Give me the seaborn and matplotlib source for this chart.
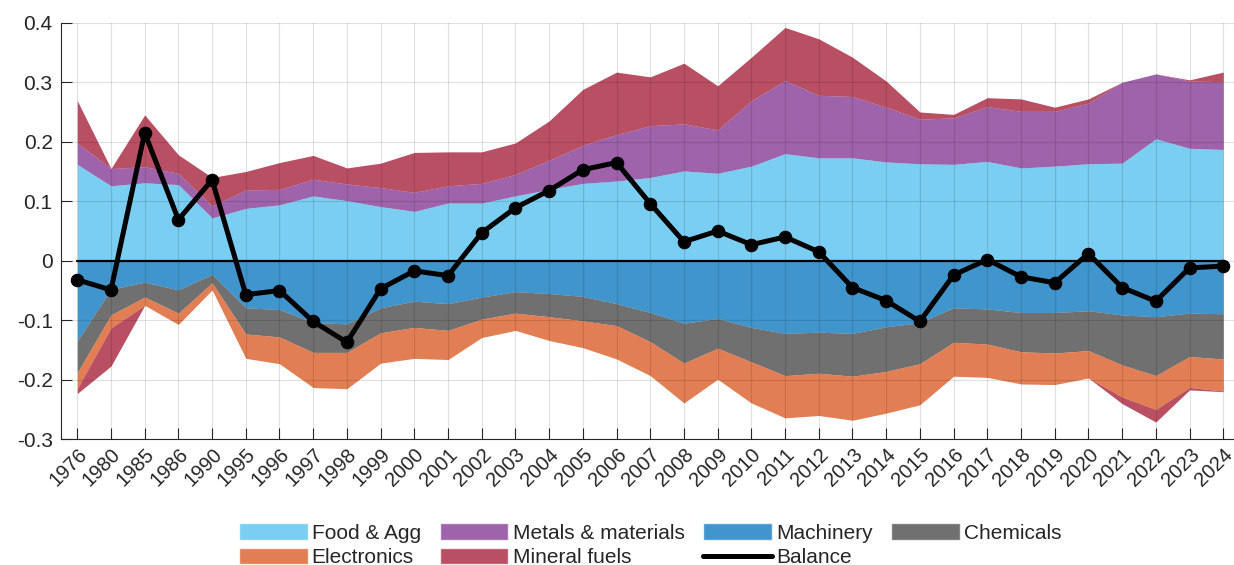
import numpy as np
import pandas as pd
import matplotlib.pyplot as plt
import seaborn as sns
from matplotlib.patches import Patch
from matplotlib.lines import Line2D

# Data
years = ['1976', '1980', '1985', '1986', '1990'] + [str(y) for y in range(1995, 2025)]

food = [0.162, 0.126, 0.131, 0.128, 0.072, 0.088, 0.094, 0.109, 0.101, 0.091,
        0.083, 0.097, 0.097, 0.109, 0.120, 0.130, 0.134, 0.140, 0.151, 0.147,
        0.159, 0.180, 0.173, 0.173, 0.166, 0.163, 0.162, 0.167, 0.156, 0.159,
        0.163, 0.164, 0.205, 0.189, 0.187]
metals = [0.036, 0.029, 0.027, 0.019, 0.020, 0.031, 0.026, 0.028, 0.028, 0.032,
          0.032, 0.029, 0.033, 0.036, 0.049, 0.064, 0.078, 0.087, 0.079, 0.073,
          0.110, 0.123, 0.105, 0.103, 0.092, 0.075, 0.078, 0.092, 0.095, 0.092,
          0.102, 0.136, 0.109, 0.113, 0.114]
fuels_pos = [0.071, 0.000, 0.087, 0.031, 0.048, 0.031, 0.045, 0.040, 0.027, 0.041,
             0.067, 0.057, 0.053, 0.053, 0.066, 0.094, 0.105, 0.082, 0.102, 0.074,
             0.073, 0.089, 0.095, 0.066, 0.044, 0.012, 0.006, 0.015, 0.021, 0.007,
             0.007, 0.000, 0.000, 0.002, 0.016]
machinery = [-0.135, -0.048, -0.036, -0.049, -0.023, -0.079, -0.082, -0.104, -0.106, -0.079,
             -0.068, -0.072, -0.061, -0.052, -0.055, -0.060, -0.072, -0.087, -0.105, -0.097,
             -0.112, -0.122, -0.120, -0.122, -0.111, -0.104, -0.079, -0.081, -0.087, -0.087,
             -0.084, -0.091, -0.094, -0.088, -0.089]
chemicals = [-0.053, -0.043, -0.025, -0.039, -0.014, -0.044, -0.046, -0.050, -0.048, -0.042,
             -0.044, -0.045, -0.037, -0.036, -0.039, -0.041, -0.037, -0.049, -0.067, -0.050,
             -0.058, -0.071, -0.069, -0.072, -0.075, -0.069, -0.058, -0.059, -0.066, -0.068,
             -0.067, -0.084, -0.099, -0.073, -0.076]
electronics = [-0.027, -0.022, -0.014, -0.019, -0.012, -0.041, -0.045, -0.059, -0.061, -0.051,
               -0.052, -0.049, -0.031, -0.029, -0.040, -0.045, -0.056, -0.057, -0.067, -0.052,
               -0.069, -0.071, -0.071, -0.074, -0.070, -0.069, -0.057, -0.056, -0.054, -0.053,
               -0.046, -0.054, -0.057, -0.052, -0.054]
fuels_neg = [-0.008, -0.064, 0.0, 0.0, 0.0, 0.0, 0.0, 0.0, 0.0, 0.0,
             0.0, 0.0, 0.0, 0.0, 0.0, 0.0, 0.0, 0.0, 0.0, 0.0,
             0.0, 0.0, 0.0, 0.0, 0.0, 0.0, 0.0, 0.0, 0.0, 0.0,
             0.0, -0.011, -0.021, -0.004, -0.001]
balance = [-0.032, -0.049, 0.215, 0.069, 0.136, -0.057, -0.050, -0.102, -0.137, -0.047,
           -0.017, -0.025, 0.047, 0.089, 0.118, 0.153, 0.165, 0.096, 0.032, 0.050,
           0.027, 0.040, 0.015, -0.045, -0.067, -0.102, -0.024, 0.002, -0.027, -0.037,
           0.012, -0.045, -0.068, -0.012, -0.009]

# MATLAB-like colours, drawn with face alpha
c_food = (0.301, 0.745, 0.933)
c_metal = (0.494, 0.184, 0.556)
c_mach = (0.0, 0.447, 0.741)
c_chem = (0.25, 0.25, 0.25)
c_elec = (0.85, 0.325, 0.098)
c_fuel = (0.635, 0.078, 0.184)
alpha = 0.75

sns.set_theme(style='white')
plt.rcParams['font.family'] = ['Liberation Sans', 'DejaVu Sans']

x = np.arange(len(years))
df = pd.DataFrame({'x': x, 'Balance': balance})

fig = plt.figure(figsize=(12.34, 5.65), dpi=100)
ax = fig.add_axes([0.0494, 0.2225, 0.9506, 0.7373])

# stacked positive part
base = np.zeros(len(x))
for vals, col in [(food, c_food), (metals, c_metal), (fuels_pos, c_fuel)]:
    top = base + np.array(vals)
    ax.fill_between(x, base, top, color=col, alpha=alpha, linewidth=0)
    base = top

# stacked negative part
base = np.zeros(len(x))
for vals, col in [(machinery, c_mach), (chemicals, c_chem), (electronics, c_elec), (fuels_neg, c_fuel)]:
    bot = base + np.array(vals)
    ax.fill_between(x, base, bot, color=col, alpha=alpha, linewidth=0)
    base = bot

ax.plot([x[0], x[-1]], [0, 0], color='black', lw=1.6, zorder=4)
sns.lineplot(data=df, x='x', y='Balance', ax=ax, color='black', lw=3.6,
             marker='o', markersize=9, markeredgecolor='black', zorder=5)

ax.set_xlim(-0.484, 34.32)
ax.set_ylim(-0.3, 0.4)
ax.set_yticks(np.arange(-0.3, 0.41, 0.1))
ax.set_yticklabels(['-0.3', '-0.2', '-0.1', '0', '0.1', '0.2', '0.3', '0.4'])
ax.set_xticks(x)
ax.set_xticklabels(years, rotation=45, ha='right', rotation_mode='anchor')
ax.tick_params(axis='x', labelsize=14.5)
ax.set_xlabel('')
ax.set_ylabel('')

ax.set_axisbelow(False)
ax.grid(True, color='black', alpha=0.12, lw=0.8)
ax.tick_params(direction='in', length=8, width=0.8, colors='#262626',
               bottom=True, left=True)
ax.tick_params(axis='y', labelsize=15, pad=6)
ax.tick_params(axis='x', pad=4)
for s in ['top', 'right']:
    ax.spines[s].set_visible(False)
for s in ['left', 'bottom']:
    ax.spines[s].set_color('#262626')
    ax.spines[s].set_linewidth(0.8)

# legend (column-major order so rows read across)
h = {
    'Food & Agg': Patch(facecolor=c_food, alpha=alpha),
    'Metals & materials': Patch(facecolor=c_metal, alpha=alpha),
    'Machinery': Patch(facecolor=c_mach, alpha=alpha),
    'Chemicals': Patch(facecolor=c_chem, alpha=alpha),
    'Electronics': Patch(facecolor=c_elec, alpha=alpha),
    'Mineral fuels': Patch(facecolor=c_fuel, alpha=alpha),
    'Balance': Line2D([], [], color='black', lw=3.6),
}
order = ['Food & Agg', 'Electronics', 'Metals & materials', 'Mineral fuels',
         'Machinery', 'Balance', 'Chemicals']
fig.legend([h[k] for k in order], order, loc='center', bbox_to_anchor=(0.527, 0.035),
           ncol=4, frameon=False, fontsize=15, handlelength=3.3, handleheight=0.85,
           handletextpad=0.2, columnspacing=0.9, labelspacing=0.25, borderpad=0)

fig.savefig('out.png', dpi=100)
